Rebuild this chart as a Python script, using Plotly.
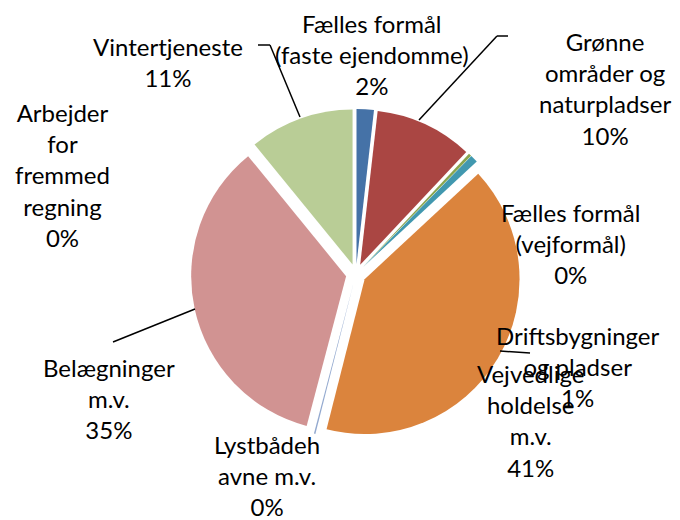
import plotly.graph_objects as go

categories = [
    "Fælles formål (faste ejendomme)",
    "Grønne områder og naturpladser",
    "Fælles formål (vejformål)",
    "Driftsbygninger og pladser",
    "Vejvedligeholdelse m.v.",
    "Lystbådehavne m.v.",
    "Belægninger m.v.",
    "Arbejder for fremmed regning",
    "Vintertjeneste",
]
values = [1.8, 10.2, 0.3, 0.8, 40.85, 0.15, 35.0, 0.0, 10.9]
colors = ["#4572A7", "#AA4643", "#89A54E", "#4198AF", "#DB843D",
          "#93A9CF", "#D19392", "#71588F", "#B9CD96"]

# Displayed label text (wrapped as in the reference)
label_texts = [
    "Fælles formål<br>(faste ejendomme)<br>2%",
    "Grønne<br>områder og<br>naturpladser<br>10%",
    "Fælles formål<br>(vejformål)<br>0%",
    "Driftsbygninger<br>og pladser<br>1%",
    "Vejvedlige<br>holdelse<br>m.v.<br>41%",
    "Lystbådeh<br>avne m.v.<br>0%",
    "Belægninger<br>m.v.<br>35%",
    "Arbejder<br>for<br>fremmed<br>regning<br>0%",
    "Vintertjeneste<br>11%",
]
# label centers in pixels (x, y from top)
label_pos = [(372, 55), (605, 88), (570, 243), (578, 366), (530, 420),
             (267, 475), (109, 398), (62, 175), (168, 62)]

# leader lines (pixel coords)
leaders = [
    [(258, 45), (270, 45), (300, 117)],
    [(508, 36), (497, 36), (419, 120)],
    [(113, 342), (195, 309)],
    [(500, 351), (530, 353)],
]

W, H = 680, 520

fig = go.Figure()
fig.add_trace(go.Pie(
    labels=categories,
    values=values,
    sort=False,
    direction="clockwise",
    rotation=0,
    pull=[0.065] * len(values),
    marker=dict(colors=colors, line=dict(width=0)),
    textinfo="none",
    hoverinfo="label+percent",
    showlegend=False,
    domain=dict(x=[190.9 / W, 521.0 / W], y=[81.0 / H, 411.0 / H]),
))

for txt, (px, py) in zip(label_texts, label_pos):
    fig.add_annotation(
        x=px / W, y=1 - py / H, xref="paper", yref="paper",
        text=txt, showarrow=False, xanchor="center", yanchor="middle",
        align="center", font=dict(family="Lato", size=24, color="#000000"),
    )

for pts in leaders:
    for (x0, y0), (x1, y1) in zip(pts[:-1], pts[1:]):
        fig.add_shape(type="line", xref="paper", yref="paper",
                      x0=x0 / W, y0=1 - y0 / H, x1=x1 / W, y1=1 - y1 / H,
                      line=dict(color="#000000", width=1.5))

fig.update_layout(
    width=W, height=H,
    margin=dict(l=0, r=0, t=0, b=0),
    paper_bgcolor="white",
    plot_bgcolor="white",
)

fig.write_html(
    "out.html",
    config={"displayModeBar": False},
    post_script="document.body.style.margin='0';document.body.style.overflow='hidden';",
)
